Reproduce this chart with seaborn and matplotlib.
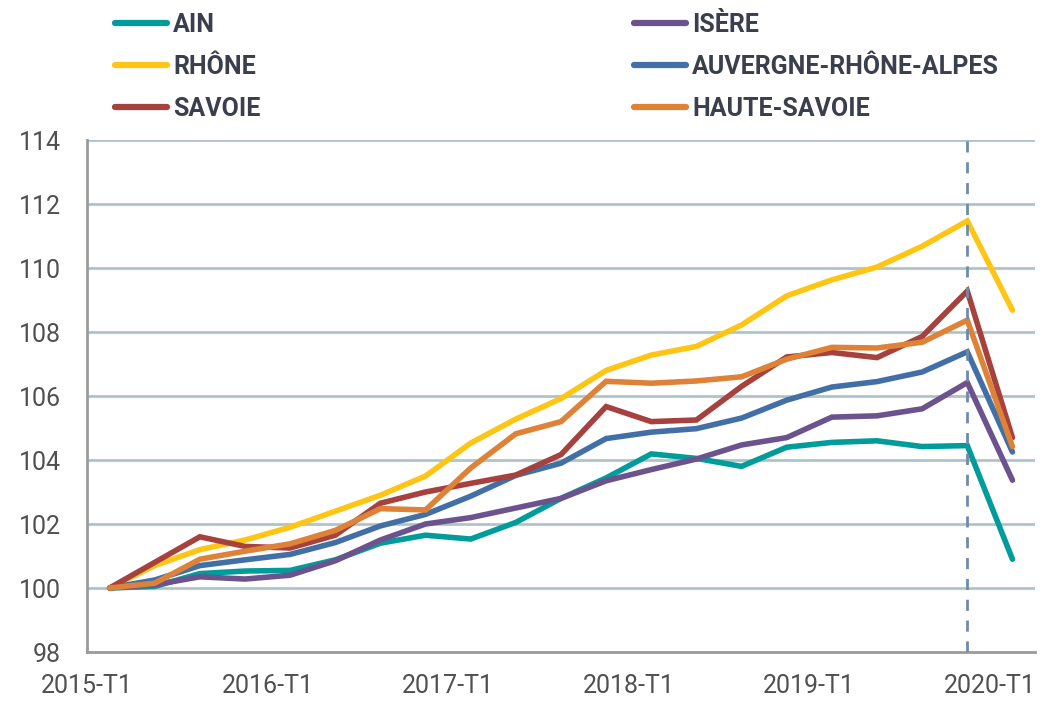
import pandas as pd
import matplotlib.pyplot as plt
import seaborn as sns

# quarterly index, base 100 at 2015-T1
quarters = [f"{y}-T{q}" for y in range(2015, 2020) for q in range(1, 5)] + ["2020-T1"]

ain = [100, 100.05, 100.45, 100.53, 100.55, 100.88, 101.4, 101.65, 101.53, 102.05,
       102.8, 103.44, 104.19, 104.05, 103.8, 104.4, 104.55, 104.6, 104.42, 104.45, 100.9]
isere = [100, 100.1, 100.35, 100.28, 100.4, 100.85, 101.5, 102.0, 102.2, 102.5,
         102.8, 103.35, 103.7, 104.03, 104.47, 104.7, 105.34, 105.38, 105.6, 106.42, 103.37]
rhone = [100, 100.7, 101.2, 101.5, 101.9, 102.4, 102.9, 103.5, 104.53, 105.28,
         105.92, 106.8, 107.28, 107.55, 108.22, 109.13, 109.63, 110.03, 110.68, 111.47, 108.68]
aura = [100, 100.25, 100.7, 100.88, 101.05, 101.42, 101.94, 102.3, 102.87, 103.52,
        103.9, 104.67, 104.87, 104.98, 105.31, 105.87, 106.28, 106.45, 106.75, 107.38, 104.25]
savoie = [100, 100.8, 101.6, 101.3, 101.25, 101.65, 102.65, 103.0, 103.27, 103.53,
          104.17, 105.67, 105.2, 105.25, 106.3, 107.22, 107.36, 107.2, 107.86, 109.28, 104.7]
hsavoie = [100, 100.15, 100.9, 101.15, 101.38, 101.8, 102.48, 102.44, 103.75, 104.82,
           105.2, 106.46, 106.4, 106.47, 106.6, 107.15, 107.52, 107.5, 107.68, 108.37, 104.42]

names = ["AIN", "ISÈRE", "RHÔNE", "AUVERGNE-RHÔNE-ALPES", "SAVOIE", "HAUTE-SAVOIE"]
series = [ain, isere, rhone, aura, savoie, hsavoie]
colors = ["#009C9B", "#6C538E", "#FFC515", "#4270A6", "#A6413D", "#DE8238"]

tick_pos = [-0.5, 3.5, 7.5, 11.5, 15.5, 19.5]
tick_lab = ["2015-T1", "2016-T1", "2017-T1", "2018-T1", "2019-T1", "2020-T1"]

rows = []
for n, vals in zip(names, series):
    for i, v in enumerate(vals):
        rows.append({"idx": i, "trimestre": quarters[i], "zone": n, "indice": v})
df = pd.DataFrame(rows)

sns.set_style("white")
plt.rcParams["font.family"] = ["Roboto", "DejaVu Sans"]

fig = plt.figure(figsize=(10.63, 7.03), dpi=100)
ax = fig.add_axes([87 / 1063, 51 / 703, (1035 - 87) / 1063, (652 - 140) / 703])

for y in range(100, 115, 2):
    ax.axhline(y, color="#AEC4CB", lw=2, zorder=0)

sns.lineplot(data=df, x="idx", y="indice", hue="zone", hue_order=names,
             palette=colors, linewidth=4.0, ax=ax, legend=True, zorder=3)
for line in ax.lines:
    line.set_solid_capstyle("round")
    line.set_solid_joinstyle("miter")

ax.axvline(19, color="#6F8BAA", lw=2, ls=(0, (4, 3.5)), zorder=4)

ax.set_xlim(-0.5, 20.5)
ax.set_ylim(98, 114)
ax.set_yticks(range(98, 115, 2))
ax.set_xticks(tick_pos)
ax.set_xticklabels(tick_lab)
ax.set_xlabel("")
ax.set_ylabel("")
for s in ["top", "right"]:
    ax.spines[s].set_visible(False)
for s in ["left", "bottom"]:
    ax.spines[s].set_color("#9A9A9A")
    ax.spines[s].set_linewidth(2)
ax.tick_params(axis="both", which="major", length=9, width=1.5, color="#9A9A9A",
               labelsize=18, labelcolor="#505050", direction="out")
ax.tick_params(axis="x", pad=7)
ax.tick_params(axis="y", pad=10)

handles, labels = ax.get_legend_handles_labels()
ax.get_legend().remove()
h = dict(zip(labels, handles))
for col, xpos in [(["AIN", "RHÔNE", "SAVOIE"], 92), (["ISÈRE", "AUVERGNE-RHÔNE-ALPES", "HAUTE-SAVOIE"], 611)]:
    leg = fig.legend([h[c] for c in col], col, loc="upper left",
                     bbox_to_anchor=(xpos / 1063, 1 + 10 / 703), frameon=False,
                     handlelength=2.1, handletextpad=0.25, labelspacing=0.72,
                     prop={"weight": "bold", "size": 18})
    for t in leg.get_texts():
        t.set_color("#3A3F4E")
    for l in leg.get_lines():
        l.set_linewidth(4.5)

fig.savefig("out.png", dpi=100)
